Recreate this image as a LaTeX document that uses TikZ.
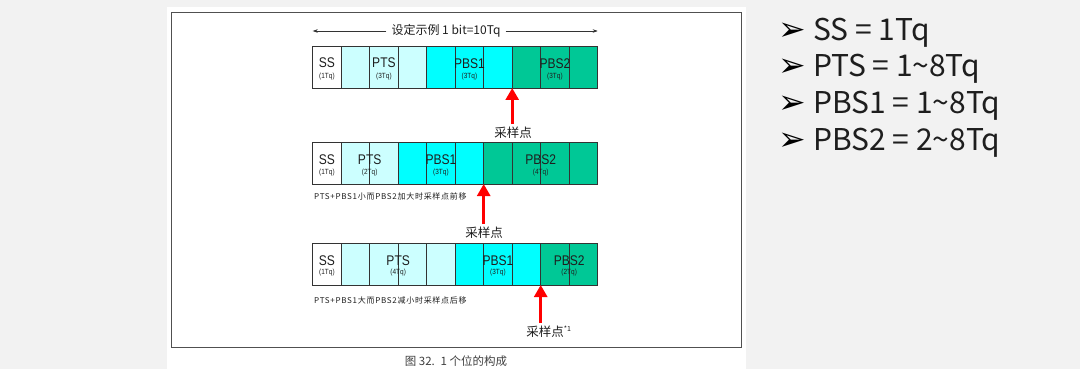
\documentclass[tikz,border=0pt]{standalone}
\usepackage{fontspec}
\setmainfont{Liberation Sans}[FakeStretch=0.86]
\newfontfamily\cjk{Noto Sans CJK SC}
\newfontfamily\cjknote{Noto Sans CJK SC}[LetterSpace=9]
\newfontfamily\dejavu{DejaVu Sans}
\usetikzlibrary{arrows.meta}
\definecolor{bggray}{HTML}{F2F2F2}
\definecolor{ptsc}{HTML}{CCFFFF}
\definecolor{pbsa}{HTML}{00FFFF}
\definecolor{pbsb}{HTML}{00C896}
\definecolor{framec}{HTML}{505050}
\definecolor{txt}{HTML}{1E1E1E}
\begin{document}
\begin{tikzpicture}[x=1pt,y=-1pt,
  cell/.style={draw=black!80, line width=0.8pt, minimum width=28.5pt, minimum height=42pt, inner sep=0pt, outer sep=0pt, anchor=north west},
  big/.style={font=\fontsize{14}{14}\selectfont, inner sep=0pt, text=txt},
  small/.style={font=\fontsize{7.5}{7.5}\selectfont, inner sep=0pt, text=txt},
  note/.style={font=\cjknote\fontsize{8}{8}\selectfont, inner sep=0pt, anchor=west, text=txt},
  lbl/.style={font=\cjk\fontsize{12.5}{12.5}\selectfont, inner sep=0pt, text=txt},
  redarrow/.style={draw=red, line width=2.7pt, -{Triangle[width=13pt,length=12pt]}},
  spec/.style={font=\cjk\fontsize{30}{30}\selectfont, inner sep=0pt, anchor=base west, text=txt},
  bullet/.style={font=\dejavu\fontsize{33}{33}\selectfont, inner sep=0pt, anchor=base west, text=black}]
\useasboundingbox (0,0) rectangle (1080,369);
\fill[bggray] (0,0) rectangle (1080,369);
\fill[white] (167,7) rectangle (746,369);
\draw[framec, line width=0.9pt] (171,12) rectangle (741,347);
% bar 1
\foreach \i/\c in {0/white,1/ptsc,2/ptsc,3/ptsc,4/pbsa,5/pbsa,6/pbsa,7/pbsb,8/pbsb,9/pbsb}
  \node[cell, fill=\c] (a\i) at ({312.7+28.5*\i},46) {};
% bar 2
\foreach \i/\c in {0/white,1/ptsc,2/ptsc,3/pbsa,4/pbsa,5/pbsa,6/pbsb,7/pbsb,8/pbsb,9/pbsb}
  \node[cell, fill=\c] (b\i) at ({312.7+28.5*\i},142) {};
% bar 3
\foreach \i/\c in {0/white,1/ptsc,2/ptsc,3/ptsc,4/ptsc,5/pbsa,6/pbsa,7/pbsa,8/pbsb,9/pbsb}
  \node[cell, fill=\c] (c\i) at ({312.7+28.5*\i},243) {};
% top dimension arrow
\node[font=\cjk\fontsize{12}{12}\selectfont, inner xsep=5pt, inner ysep=0pt, fill=white, text=txt] (title) at (446,31) {设定示例 1 bit=10Tq};
\draw[black!80, line width=0.6pt, -{Stealth[length=5pt,width=3.5pt]}] (title.west) -- (a0.north west |- title.west);
\draw[black!80, line width=0.6pt, -{Stealth[length=5pt,width=3.5pt]}] (title.east) -- (a9.north east |- title.east);
% bar 1 labels
\node[big, yshift=4pt] (a-ss) at (a0.center) {SS};
\node[small, yshift=-9.5pt] (a-ssq) at (a0.center) {(1Tq)};
\node[big, yshift=4pt] (a-pts) at (a2.center) {PTS};
\node[small, yshift=-9.5pt] (a-ptsq) at (a2.center) {(3Tq)};
\node[big, yshift=3pt] (a-p1) at (a5.center) {PBS1};
\node[small, yshift=-9.5pt] (a-p1q) at (a5.center) {(3Tq)};
\node[big, yshift=3pt] (a-p2) at (a8.center) {PBS2};
\node[small, yshift=-9.5pt] (a-p2q) at (a8.center) {(3Tq)};
% bar 2 labels
\node[big, yshift=3pt] (b-ss) at (b0.center) {SS};
\node[small, yshift=-9.5pt] (b-ssq) at (b0.center) {(1Tq)};
\node[big, yshift=3pt] (b-pts) at (b1.east) {PTS};
\node[small, yshift=-9.5pt] (b-ptsq) at (b1.east) {(2Tq)};
\node[big, yshift=3pt] (b-p1) at (b4.center) {PBS1};
\node[small, yshift=-9.5pt] (b-p1q) at (b4.center) {(3Tq)};
\node[big, yshift=3pt] (b-p2) at (b7.east) {PBS2};
\node[small, yshift=-9.5pt] (b-p2q) at (b7.east) {(4Tq)};
% bar 3 labels
\node[big, yshift=3pt] (c-ss) at (c0.center) {SS};
\node[small, yshift=-9pt] (c-ssq) at (c0.center) {(1Tq)};
\node[big, yshift=3pt] (c-pts) at (c2.east) {PTS};
\node[small, yshift=-9pt] (c-ptsq) at (c2.east) {(4Tq)};
\node[big, yshift=3pt] (c-p1) at (c6.center) {PBS1};
\node[small, yshift=-9pt] (c-p1q) at (c6.center) {(3Tq)};
\node[big, yshift=3pt] (c-p2) at (c8.east) {PBS2};
\node[small, yshift=-9pt] (c-p2q) at (c8.east) {(2Tq)};
% notes
\node[note] (nb) at (314,196) {PTS+PBS1小而PBS2加大时采样点前移};
\node[note] (nc) at (314,300) {PTS+PBS1大而PBS2减小时采样点后移};
% sample points
\node[lbl] (sa) at (513,133) {采样点};
\draw[redarrow] ([yshift=3pt]a6.south east |- sa.north) -- (a6.south east);
\node[lbl] (sb) at (484,233) {采样点};
\draw[redarrow] ([yshift=3pt]b5.south east |- sb.north) -- (b5.south east);
\node[lbl] (sc) at (549,331.5) {采样点\textsuperscript{\fontsize{7}{7}\selectfont *1}};
\draw[redarrow] ([yshift=3pt]c7.south east |- sc.north) -- (c7.south east);
% caption
\node[font=\cjk\fontsize{11.5}{11.5}\selectfont, inner sep=0pt, text=txt!85] (cap) at (456,361) {图 32.\enspace 1 个位的构成};
% right-hand list
\node[bullet] (k1) at (778,40.5) {➢};
\node[spec] (t1) at (813,40.5) {SS = 1Tq};
\node[bullet] (k2) at (778,77) {➢};
\node[spec] (t2) at (813,77) {PTS = 1\char"7E 8Tq};
\node[bullet] (k3) at (778,113.5) {➢};
\node[spec] (t3) at (813,113.5) {PBS1 = 1\char"7E 8Tq};
\node[bullet] (k4) at (778,150) {➢};
\node[spec] (t4) at (813,150) {PBS2 = 2\char"7E 8Tq};
\end{tikzpicture}
\end{document}
